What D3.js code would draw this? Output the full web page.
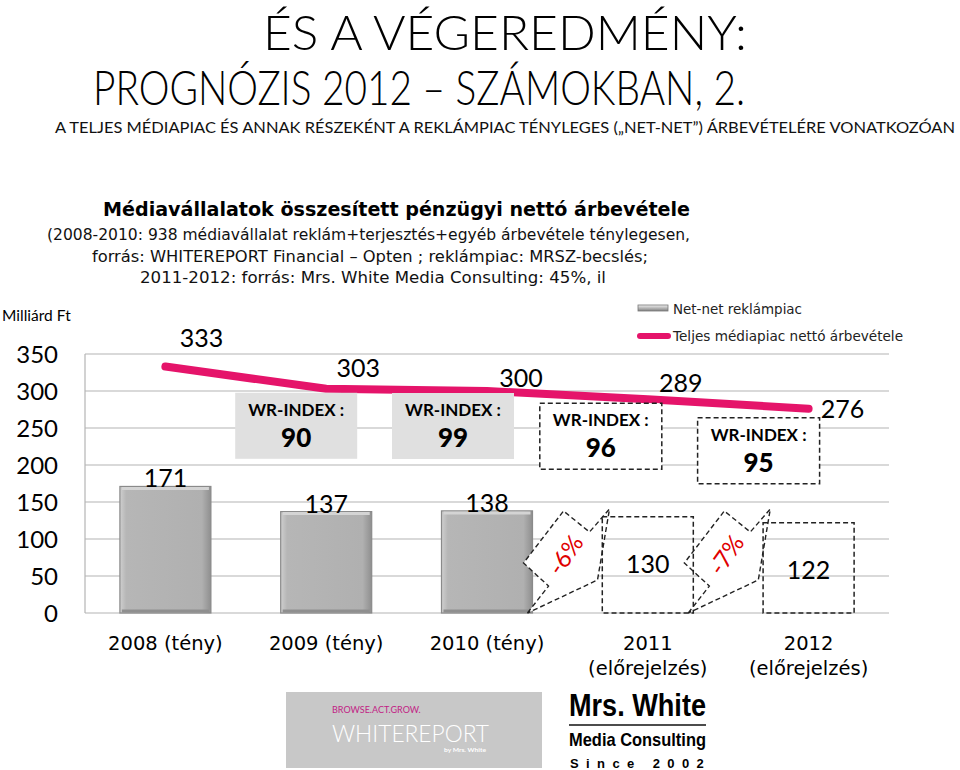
<!DOCTYPE html>
<html><head><meta charset="utf-8">
<script src="https://cdn.jsdelivr.net/npm/d3@7"></script>
<style>body{margin:0;background:#fff}svg{display:block}</style>
</head><body>
<script>
// ---------- data ----------
const categories = ["2008 (tény)", "2009 (tény)", "2010 (tény)", "2011|(előrejelzés)", "2012|(előrejelzés)"];
const adMarket = [171, 137, 138, 130, 122];          // Net-net reklámpiac
const totalMarket = [333, 303, 300, 289, 276];       // Teljes médiapiac nettó árbevétele
const isForecast = [false, false, false, true, true];
const wrIndex = [null, 90, 99, 96, 95];
const changeLabels = ["-6%", "-7%"];                  // between 2010->2011 and 2011->2012
const changeAfter = [2, 3];
const yTicks = [0, 50, 100, 150, 200, 250, 300, 350];
const legendLabels = ["Net-net reklámpiac", "Teljes médiapiac nettó árbevétele"];

const W = 960, H = 770;
const svg = d3.select("body").append("svg").attr("width", W).attr("height", H);
const defs = svg.append("defs");
const gH = defs.append("linearGradient").attr("id", "barH");
[[0,"#cfcfcf"],[0.07,"#b6b6b6"],[0.9,"#b0b0b0"],[1,"#8f8f8f"]].forEach(s=>gH.append("stop").attr("offset",s[0]).attr("stop-color",s[1]));
const gL = defs.append("linearGradient").attr("id","legH").attr("x1",0).attr("x2",0).attr("y1",0).attr("y2",1);
[[0,"#f0f0f0"],[0.5,"#b8b8b8"],[1,"#808080"]].forEach(s=>gL.append("stop").attr("offset",s[0]).attr("stop-color",s[1]));

const PINK = "#e5146a", NUMF = "Lato, 'Open Sans', sans-serif", GOTH = "'DejaVu Sans', Lato, sans-serif";
const NARROW = "'Liberation Sans Narrow', 'Liberation Sans', sans-serif";

// ---------- titles ----------
function fitText(txt, x1, x2, y, size, opts = {}) {
  return svg.append("text").attr("x", x1).attr("y", y).text(txt)
    .attr("font-family", opts.family || "Lato, sans-serif")
    .attr("font-size", size).attr("font-weight", opts.weight || "normal")
    .attr("fill", opts.fill || "#000")
    .attr("textLength", x2 - x1).attr("lengthAdjust", "spacingAndGlyphs");
}
fitText("ÉS A VÉGEREDMÉNY:", 263, 747, 50, 48, {weight: 300});
fitText("PROGNÓZIS 2012 – SZÁMOKBAN, 2.", 93, 745, 105, 48, {weight: 300});
fitText("A TELJES MÉDIAPIAC ÉS ANNAK RÉSZEKÉNT A REKLÁMPIAC TÉNYLEGES („NET-NET”) ÁRBEVÉTELÉRE VONATKOZÓAN", 55, 955, 133, 16, {fill: "#111"});
fitText("Médiavállalatok összesített pénzügyi nettó árbevétele", 103, 690, 216, 20, {weight: "bold", family: GOTH});
fitText("(2008-2010: 938 médiavállalat reklám+terjesztés+egyéb árbevétele ténylegesen,", 47, 690, 240, 16, {family: GOTH, fill: "#111"});
fitText("forrás: WHITEREPORT Financial – Opten ; reklámpiac: MRSZ-becslés;", 92, 648, 262, 16, {family: GOTH, fill: "#111"});
fitText("2011-2012: forrás: Mrs. White Media Consulting: 45%, il", 140, 606, 283, 16, {family: GOTH, fill: "#111"});

// ---------- scales ----------
const x = d3.scaleBand().domain(categories).range([85, 889]).paddingInner(0.434).paddingOuter(0.217);
const y = d3.scaleLinear().domain([0, 350]).range([613, 354]);
const cx = i => x(categories[i]) + x.bandwidth() / 2;

// grid
const g = svg.append("g");
g.selectAll("line.grid").data(yTicks).join("line")
  .attr("x1", 85).attr("x2", 889).attr("y1", d => y(d)).attr("y2", d => y(d))
  .attr("stroke", "#b4b4b4").attr("stroke-width", 1.2);
g.append("line").attr("x1", 85).attr("x2", 85).attr("y1", y(350)).attr("y2", y(0)).attr("stroke", "#b4b4b4").attr("stroke-width", 1.2);

// y axis
const yAxis = d3.axisLeft(y).tickValues(yTicks).tickSize(0).tickPadding(0);
const ya = svg.append("g").attr("transform", "translate(58,0)").call(yAxis);
ya.select(".domain").remove();
ya.selectAll("text").attr("font-family", NUMF).attr("font-size", 24).attr("fill", "#000").attr("dy", "0.36em");
svg.append("text").attr("x", 2).attr("y", 321).text("Milliárd Ft").attr("font-family", NUMF).attr("font-size", 15.5);

// ---------- bars ----------
const bars = svg.append("g");
adMarket.forEach((v, i) => {
  const bx = x(categories[i]), bw = x.bandwidth(), by = y(v), bh = y(0) - y(v);
  if (!isForecast[i]) {
    bars.append("rect").attr("x", bx).attr("y", by).attr("width", bw).attr("height", bh)
      .attr("fill", "url(#barH)").attr("stroke", "#8a8a8a").attr("stroke-width", 1.2);
    bars.append("line").attr("x1", bx + 2).attr("x2", bx + bw - 2).attr("y1", by + 2).attr("y2", by + 2)
      .attr("stroke", "#d4d4d4").attr("stroke-width", 3);
    bars.append("line").attr("x1", bx + 2).attr("x2", bx + bw - 2).attr("y1", by + bh - 2).attr("y2", by + bh - 2)
      .attr("stroke", "#8f8f8f").attr("stroke-width", 3);
    bars.append("text").attr("x", cx(i)).attr("y", by + 1).attr("text-anchor", "middle")
      .attr("font-family", NUMF).attr("font-size", 25).text(v);
  } else {
    bars.append("text").attr("x", cx(i)).attr("y", by + 56).attr("text-anchor", "middle")
      .attr("font-family", NUMF).attr("font-size", 25).text(v);
  }
});

// ---------- change arrows ----------
const arrowShape = [[-5,0],[16,-27],[-9,-50],[31,-102],[57,-81],[77,-104],[65,-33]];
changeLabels.forEach((lab, k) => {
  const i = changeAfter[k];
  const ax = x(categories[i]) + x.bandwidth(), ay = y(0);
  svg.append("polygon").attr("points", arrowShape.map(p => [ax + p[0], ay + p[1]].join(",")).join(" "))
    .attr("fill", "#fff").attr("stroke", "#222").attr("stroke-width", 1.4).attr("stroke-dasharray", "5,3");
  svg.append("text").attr("transform", `translate(${ax + 33},${ay - 58}) rotate(-55)`)
    .attr("text-anchor", "middle").attr("dy", "0.35em").attr("fill", "#e00000")
    .attr("font-family", NUMF).attr("font-size", 24).text(lab);
});
// forecast bar outlines (dashed, unfilled)
adMarket.forEach((v, i) => {
  if (!isForecast[i]) return;
  svg.append("rect").attr("x", x(categories[i])).attr("y", y(v)).attr("width", x.bandwidth()).attr("height", y(0) - y(v))
    .attr("fill", "none").attr("stroke", "#222").attr("stroke-width", 1.5).attr("stroke-dasharray", "5,3");
});

// ---------- line ----------
const line = d3.line().x((d, i) => cx(i)).y(d => y(d));
svg.append("path").datum(totalMarket).attr("d", line).attr("fill", "none")
  .attr("stroke", PINK).attr("stroke-width", 8).attr("stroke-linecap", "round").attr("stroke-linejoin", "round");
const lineLabelOff = [[36,-20],[32,-12],[34,-4],[33,-7],[34,9]];
totalMarket.forEach((v, i) => {
  svg.append("text").attr("x", cx(i) + lineLabelOff[i][0]).attr("y", y(v) + lineLabelOff[i][1])
    .attr("text-anchor", "middle").attr("font-family", NUMF).attr("font-size", 25).text(v);
});

// ---------- WR-INDEX boxes ----------
const boxOff = [null, [-91, 4], [-95, 2], [-108, 4], [-111, 9]];
wrIndex.forEach((w, i) => {
  if (w == null) return;
  const bx = cx(i) + boxOff[i][0], by = y(totalMarket[i]) + boxOff[i][1], bw = 122, bh = 66;
  const r = svg.append("rect").attr("x", bx).attr("y", by).attr("width", bw).attr("height", bh);
  if (isForecast[i]) r.attr("fill", "#fff").attr("stroke", "#222").attr("stroke-width", 1.5).attr("stroke-dasharray", "5,3");
  else r.attr("fill", "#e0e0e0");
  svg.append("text").attr("x", bx + bw / 2).attr("y", by + 23).attr("text-anchor", "middle")
    .attr("font-family", NUMF).attr("font-weight", "bold").attr("font-size", 17).text("WR-INDEX :");
  svg.append("text").attr("x", bx + bw / 2).attr("y", by + 54).attr("text-anchor", "middle")
    .attr("font-family", NUMF).attr("font-weight", 900).attr("font-size", 26).text(w);
});

// ---------- x labels ----------
categories.forEach((c, i) => {
  const parts = c.split("|");
  parts.forEach((p, j) => {
    svg.append("text").attr("x", cx(i)).attr("y", 650 + j * 25).attr("text-anchor", "middle")
      .attr("font-family", GOTH).attr("font-size", 19.5).text(p);
  });
});

// ---------- legend ----------
svg.append("rect").attr("x", 638).attr("y", 305).attr("width", 30).attr("height", 6)
  .attr("fill", "url(#legH)").attr("stroke", "#777").attr("stroke-width", 0.8);
svg.append("line").attr("x1", 640).attr("x2", 668).attr("y1", 336).attr("y2", 336)
  .attr("stroke", PINK).attr("stroke-width", 6).attr("stroke-linecap", "round");
fitText(legendLabels[0], 673, 802, 314, 14, {family: GOTH, fill: "#222"});
fitText(legendLabels[1], 673, 903, 341, 14, {family: GOTH, fill: "#222"});

// ---------- logos ----------
svg.append("rect").attr("x", 286).attr("y", 692).attr("width", 256).attr("height", 76).attr("fill", "#c8c8c8");
svg.append("text").attr("x", 332).attr("y", 713).attr("font-family", "Lato, sans-serif").attr("font-size", 9)
  .attr("fill", "#c21d85").text("BROWSE.ACT.GROW.");
fitText("WHITEREPORT", 332, 489, 742, 23, {fill: "#fff", weight: 300});
fitText("by Mrs. White", 444, 486, 752, 6, {fill: "#fff", weight: "bold"});

fitText("Mrs. White", 569, 706, 716, 31, {family: NARROW, weight: "bold"});
svg.append("line").attr("x1", 569).attr("x2", 706).attr("y1", 725).attr("y2", 725).attr("stroke", "#111").attr("stroke-width", 1.5);
fitText("Media Consulting", 569, 706, 746, 19, {family: NARROW, weight: "bold"});
svg.append("text").attr("x", 570).attr("y", 768).attr("font-family", NARROW).attr("font-weight", "bold")
  .attr("font-size", 13).attr("letter-spacing", 7.4).text("Since 2002");
</script>
</body></html>
